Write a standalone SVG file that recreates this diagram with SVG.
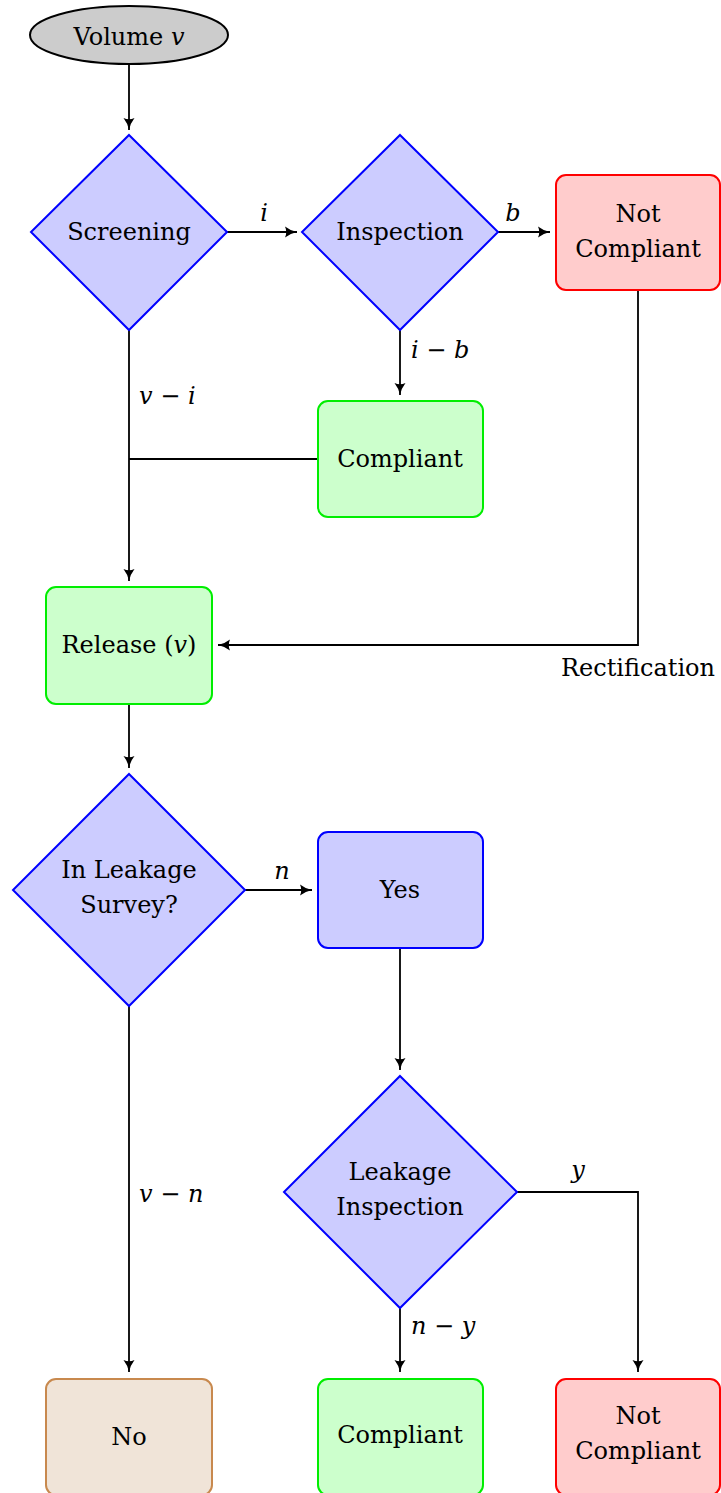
<svg xmlns="http://www.w3.org/2000/svg" width="721" height="1493" viewBox="0 0 721 1493">
<style>
text{font-family:"DejaVu Serif","Liberation Serif",serif;font-size:24px;fill:#000;text-anchor:middle}
.m{font-style:italic}
.lbl{text-anchor:start}
.dia{fill:#ccccff;stroke:#0000ff;stroke-width:2}
.blue{fill:#ccccff;stroke:#0000ff;stroke-width:2}
.green{fill:#ccffcc;stroke:#00ee00;stroke-width:2}
.red{fill:#ffcccc;stroke:#ff0000;stroke-width:2}
.brown{fill:#f0e4d8;stroke:#c8894e;stroke-width:2}
.con{fill:none;stroke:#000;stroke-width:1.8}
.arr{marker-end:url(#ah)}
</style>
<defs>
<marker id="ah" markerUnits="userSpaceOnUse" markerWidth="14" markerHeight="14" refX="12" refY="7" orient="auto">
<path d="M0,1.5 Q5,5.5 12,7 Q5,8.5 0,12.5 Q2.5,7 0,1.5 z" fill="#000"/>
</marker>
</defs>

<g id="connectors">
<path class="con arr" d="M129,64 V130"/>
<path class="con arr" d="M227,232 H297"/>
<path class="con arr" d="M498,232 H550"/>
<path class="con arr" d="M400,330 V395"/>
<path class="con arr" d="M129,330 V581"/>
<path class="con" d="M318,459 H129"/>
<path class="con arr" d="M638,290 V645 H218"/>
<path class="con arr" d="M129,704 V768"/>
<path class="con arr" d="M245,890 H312"/>
<path class="con arr" d="M400,948 V1070"/>
<path class="con arr" d="M129,1006 V1372"/>
<path class="con arr" d="M400,1308 V1372"/>
<path class="con arr" d="M517,1192 H638 V1372"/>
<text class="m" x="264" y="221">i</text>
<text class="m" x="513" y="221">b</text>
<text class="m lbl" x="411" y="358">i − b</text>
<text class="m lbl" x="139" y="404">v − i</text>
<text x="638" y="676">Rectification</text>
<text class="m" x="282" y="879">n</text>
<text class="m lbl" x="139" y="1202">v − n</text>
<text class="m" x="578" y="1178">y</text>
<text class="m lbl" x="411" y="1334">n − y</text>
</g>

<g id="volume">
<ellipse cx="129" cy="35" rx="99" ry="29" fill="#cccccc" stroke="#000" stroke-width="2"/>
<text x="129" y="45">Volume <tspan class="m">v</tspan></text>
</g>

<g id="screening">
<polygon class="dia" points="129,135 227,232 129,330 31,232"/>
<text x="129" y="240">Screening</text>
</g>

<g id="inspection">
<polygon class="dia" points="400,135 498,232 400,330 302,232"/>
<text x="400" y="240">Inspection</text>
</g>

<g id="notcompliant1">
<rect class="red" x="556" y="175" width="164" height="115" rx="10"/>
<text x="638" y="222">Not</text>
<text x="638" y="257">Compliant</text>
</g>

<g id="compliant1">
<rect class="green" x="318" y="401" width="165" height="116" rx="10"/>
<text x="400" y="467">Compliant</text>
</g>

<g id="release">
<rect class="green" x="46" y="587" width="166" height="117" rx="10"/>
<text x="129" y="653">Release (<tspan class="m">v</tspan>)</text>
</g>

<g id="survey">
<polygon class="dia" points="129,774 245,890 129,1006 13,890"/>
<text x="129" y="878">In Leakage</text>
<text x="129" y="913">Survey?</text>
</g>

<g id="yes">
<rect class="blue" x="318" y="832" width="165" height="116" rx="10"/>
<text x="400" y="898">Yes</text>
</g>

<g id="leakinspection">
<polygon class="dia" points="400,1076 517,1192 400,1308 284,1192"/>
<text x="400" y="1180">Leakage</text>
<text x="400" y="1215">Inspection</text>
</g>

<g id="no">
<rect class="brown" x="46" y="1379" width="166" height="116" rx="10"/>
<text x="129" y="1445">No</text>
</g>

<g id="compliant2">
<rect class="green" x="318" y="1379" width="165" height="116" rx="10"/>
<text x="400" y="1443">Compliant</text>
</g>

<g id="notcompliant2">
<rect class="red" x="556" y="1379" width="164" height="116" rx="10"/>
<text x="638" y="1424">Not</text>
<text x="638" y="1459">Compliant</text>
</g>
</svg>
